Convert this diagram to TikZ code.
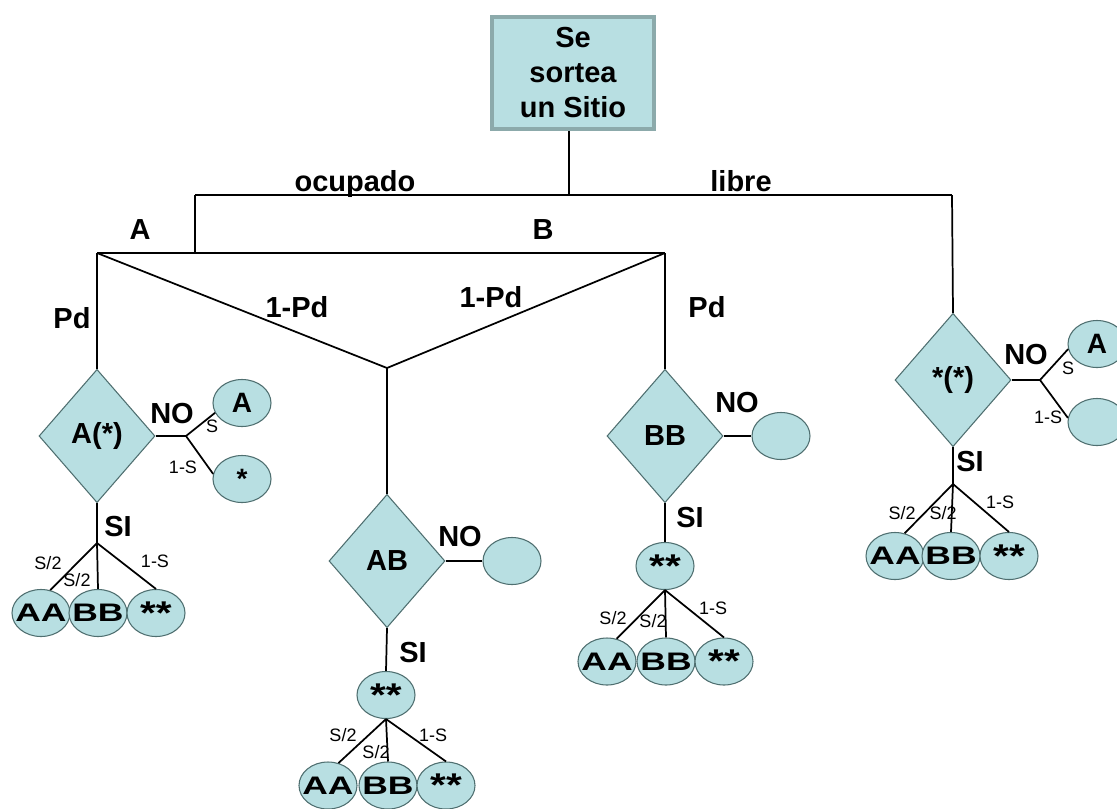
\documentclass[tikz,border=0pt]{standalone}
\usepackage{fontspec}
\setmainfont{Liberation Sans}
\usetikzlibrary{shapes.geometric,positioning}
\definecolor{cellfill}{HTML}{B8DFE2}
\definecolor{cellline}{HTML}{4F6F70}
\definecolor{boxline}{HTML}{8CAAAB}
\newcommand{\wide}[1]{\makebox[0pt]{\scalebox{1.4}[1]{#1}}}
\newcommand{\stars}{\makebox[0pt]{\raisebox{-5pt}{\scalebox{1.6}[1.3]{**}}}}

\begin{document}
\begin{tikzpicture}[x=0.75pt, y=-0.75pt,
  root/.style={rectangle, draw=boxline, line width=3pt, fill=cellfill,
    minimum width=121pt, minimum height=84pt, align=center,
    font=\fontsize{21.75}{26.25}\selectfont\bfseries},
  test/.style={diamond, draw=cellline, line width=0.8pt, fill=cellfill,
    inner sep=0pt, minimum width=87pt, minimum height=100pt,
    font=\fontsize{21.75}{26}\selectfont\bfseries},
  leaf/.style={ellipse, draw=cellline, line width=0.8pt, fill=cellfill,
    inner sep=0pt, minimum width=43.5pt, minimum height=35.25pt,
    font=\fontsize{21}{24}\selectfont\bfseries},
  pair/.style={leaf, font=\fontsize{19}{21}\selectfont\bfseries},
  lbl/.style={inner sep=0pt, font=\fontsize{21.75}{26}\selectfont\bfseries},
  sm/.style={inner sep=0pt, font=\fontsize{13.5}{15}\selectfont},
  edge/.style={line width=1.3pt}
]
\useasboundingbox (0,0) rectangle (1117,808);

% root and first split
\node[root] (root) at (573,73) {Se\\sortea\\un Sitio};
\coordinate (top) at (569,195);
\coordinate (occ) at (195,195);
\coordinate (free) at (952,195);
\coordinate (pick) at (195,253);
\coordinate (isA) at (97,253);
\coordinate (isB) at (665,253);
\coordinate (mix) at (387,368);

\node[test] (tA) at (97,436) {A(*)};
\node[test] (tAB) at (387,561) {AB};
\node[test] (tBB) at (665,436) {BB};
\node[test] (tE) at (953,380) {*(*)};

\draw[edge] (root.south -| top) -- (top);
\draw[edge] (occ) -- (free);
\draw[edge] (occ) -- (pick);
\draw[edge] (isA) -- (isB);
\draw[edge] (isA) -- (tA.north);
\draw[edge] (isA) -- (mix) -- (isB);
\draw[edge] (mix) -- (tAB.north);
\draw[edge] (isB) -- (tBB.north);
\draw[edge] (free) -- (tE.north);

\node[lbl, anchor=base] (lOcc) at (355,191) {ocupado};
\node[lbl, anchor=base] (lFree) at (741,191) {libre};
\node[lbl] (lA) at (140,230) {A};
\node[lbl] (lB) at (543,230) {B};
\node[lbl] (lPdA) at (72,318) {Pd};
\node[lbl] (lQA) at (297,307) {1-Pd};
\node[lbl] (lQB) at (491,297) {1-Pd};
\node[lbl] (lPdB) at (707,307) {Pd};

% test A(*)
\coordinate (noA) at (186,436);
\coordinate (siA) at (97,543);
\node[leaf] (A1) at (242,403) {A};
\node[leaf] (S1) at (242,479) {\raisebox{-4pt}{*}};
\node[pair] (AA1) at (41,613) {\wide{AA}};
\node[pair] (BB1) at (98,613) {\wide{BB}};
\node[pair] (SS1) at (156,613) {\stars};
\draw[edge] (tA.east) -- (noA);
\draw[edge] (noA) -- (A1.200);
\draw[edge] (noA) -- (S1.170);
\draw[edge] (tA.south) -- (siA);
\draw[edge] (siA) -- (AA1.68);
\draw[edge] (siA) -- (BB1.north);
\draw[edge] (siA) -- (SS1.north);
\node[lbl] at (172,414) {NO};
\node[sm] at (212,426) {S};
\node[sm] at (183,467) {1-S};
\node[lbl] at (118,527) {SI};
\node[sm] at (48,563) {S/2};
\node[sm] at (77,580) {S/2};
\node[sm] at (155,561) {1-S};

% test AB
\node[leaf] (eAB) at (512,561) {};
\node[pair] (m2) at (386,695) {\stars};
\node[pair] (AA2) at (328,785.5) {\wide{AA}};
\node[pair] (BB2) at (388,785.5) {\wide{BB}};
\node[pair] (SS2) at (446,785.5) {\stars};
\draw[edge] (tAB.east) -- (eAB.west);
\draw[edge] (tAB.south) -- (m2.north);
\draw[edge] (m2.south) -- (AA2.65);
\draw[edge] (m2.south) -- (BB2.north);
\draw[edge] (m2.south) -- (SS2.north);
\node[lbl] at (460,537) {NO};
\node[lbl] at (413,653) {SI};
\node[sm] at (343,735) {S/2};
\node[sm] at (376,752) {S/2};
\node[sm] at (433,735) {1-S};

% test BB
\node[leaf] (eBB) at (781,436) {};
\node[pair] (m3) at (665,566) {\stars};
\node[pair] (AA3) at (607,661.5) {\wide{AA}};
\node[pair] (BB3) at (666,661.5) {\wide{BB}};
\node[pair] (SS3) at (724,661.5) {\stars};
\draw[edge] (tBB.east) -- (eBB.west);
\draw[edge] (tBB.south) -- (m3.north);
\draw[edge] (m3.south) -- (AA3.67);
\draw[edge] (m3.south) -- (BB3.north);
\draw[edge] (m3.south) -- (SS3.north);
\node[lbl] at (737,403) {NO};
\node[lbl] at (690,518) {SI};
\node[sm] at (613,618) {S/2};
\node[sm] at (653,621) {S/2};
\node[sm] at (713,608) {1-S};

% test *(*)
\coordinate (noE) at (1040,380);
\coordinate (siE) at (953,484);
\node[leaf] (A4) at (1097,344) {A};
\node[leaf] (E4) at (1097,422) {};
\node[pair] (AA4) at (895,556) {\wide{AA}};
\node[pair] (BB4) at (951,556) {\wide{BB}};
\node[pair] (SS4) at (1009,556) {\stars};
\draw[edge] (tE.east) -- (noE);
\draw[edge] (noE) -- (A4.190);
\draw[edge] (noE) -- (E4.172);
\draw[edge] (tE.south) -- (siE);
\draw[edge] (siE) -- (AA4.67);
\draw[edge] (siE) -- (BB4.north);
\draw[edge] (siE) -- (SS4.north);
\node[lbl] at (1026,355) {NO};
\node[sm] at (1068,368) {S};
\node[sm] at (1048,417) {1-S};
\node[lbl] at (970,462) {SI};
\node[sm] at (902,513) {S/2};
\node[sm] at (943,513) {S/2};
\node[sm] at (1000,502) {1-S};
\end{tikzpicture}
\end{document}
